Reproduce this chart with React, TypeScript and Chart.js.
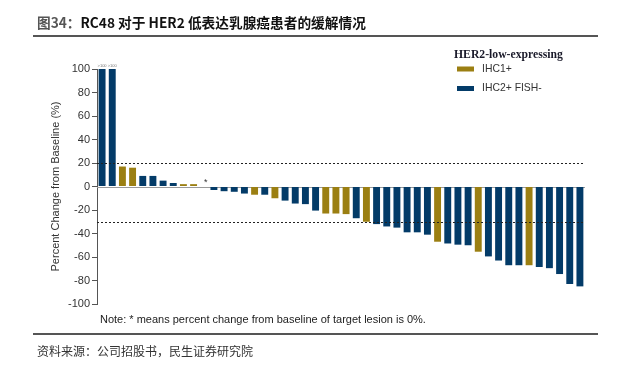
import React, { useEffect, useRef } from "react";
import { Chart, registerables } from "chart.js";

Chart.register(...registerables);

const IHC1 = "IHC1+";
const IHC2 = "IHC2+ FISH-";

// best percent change from baseline, per patient (sorted waterfall)
const changes = [
  100, 100, 17, 16, 9, 9, 5, 3, 2, 2,
  0, -3, -4, -4.5, -6, -7, -7, -10, -12, -14.5,
  -15, -20.5, -23, -23, -23.5, -27, -30, -32, -34, -35,
  -39, -39, -41, -47, -48.5, -49.5, -50, -55.5, -59.5, -63,
  -67, -67, -67, -68.5, -69.5, -74.5, -83, -85,
];

const subgroup = [
  IHC2, IHC2, IHC1, IHC1, IHC2, IHC2, IHC2, IHC2, IHC1, IHC1,
  IHC2, IHC2, IHC2, IHC2, IHC2, IHC1, IHC2, IHC1, IHC2, IHC2,
  IHC2, IHC2, IHC1, IHC1, IHC1, IHC2, IHC1, IHC2, IHC2, IHC2,
  IHC2, IHC2, IHC2, IHC1, IHC2, IHC2, IHC2, IHC1, IHC2, IHC2,
  IHC2, IHC2, IHC1, IHC2, IHC2, IHC2, IHC2, IHC2,
];

const patients = changes.map((_, i) => `P${i + 1}`);
const cappedLabels = [">100", ">100"]; // first bars exceed the axis
const zeroMarked = [10]; // "*" patients
const refLines = [20, -30];
const yTicks = { min: -100, max: 100, step: 20 };

const legendTitle = "HER2-low-expressing";
const legendItems = [IHC1, IHC2];
const COLORS: Record<string, string> = { [IHC1]: "#9b7f12", [IHC2]: "#033b68" };

const noteText = "Note: * means percent change from baseline of target lesion is 0%.";

const overlayPlugin = {
  id: "overlay",
  beforeDatasetsDraw(chart: any) {
    const { ctx, chartArea, scales } = chart;
    const y0 = scales.y.getPixelForValue(0);
    ctx.save();
    ctx.strokeStyle = "#9a9a9a";
    ctx.lineWidth = 1;
    ctx.beginPath();
    ctx.moveTo(chartArea.left, Math.round(y0) + 0.5);
    ctx.lineTo(chartArea.right, Math.round(y0) + 0.5);
    ctx.stroke();
    ctx.restore();
  },
  afterDatasetsDraw(chart: any) {
    const { ctx, chartArea, scales } = chart;
    ctx.save();
    ctx.strokeStyle = "#222";
    ctx.lineWidth = 1.2;
    ctx.setLineDash([2, 2]);
    refLines.forEach((v) => {
      const y = Math.round(scales.y.getPixelForValue(v)) + 0.5;
      ctx.beginPath();
      ctx.moveTo(chartArea.left, y);
      ctx.lineTo(chartArea.right - 2, y);
      ctx.stroke();
    });
    ctx.setLineDash([]);

    // capped labels
    ctx.fillStyle = "#777";
    ctx.font = "4px 'Liberation Sans', Arial, sans-serif";
    ctx.textAlign = "center";
    ctx.textBaseline = "bottom";
    cappedLabels.forEach((t, i) => {
      const x = scales.x.getPixelForValue(i);
      const y = scales.y.getPixelForValue(changes[i]);
      ctx.fillText(t, x, y - 1);
    });

    // zero markers
    ctx.fillStyle = "#333";
    ctx.font = "9px 'Liberation Sans', Arial, sans-serif";
    zeroMarked.forEach((i) => {
      const x = scales.x.getPixelForValue(i);
      const y = scales.y.getPixelForValue(0);
      ctx.fillText("*", x + 2, y + 1);
    });

    // legend
    ctx.textAlign = "left";
    ctx.textBaseline = "middle";
    ctx.fillStyle = "#1a1a2a";
    ctx.font = "bold 11.7px 'Liberation Serif', 'Times New Roman', serif";
    ctx.fillText(legendTitle, 454, 55);
    legendItems.forEach((name, k) => {
      const y = 69 + k * 19.5;
      ctx.fillStyle = COLORS[name];
      ctx.fillRect(457, y - 2.5, 17, 5);
      ctx.fillStyle = "#333";
      ctx.font = "10.4px 'Liberation Sans', Arial, sans-serif";
      ctx.fillText(name, 482, y);
    });

    // note
    ctx.fillStyle = "#222";
    ctx.font = "11px 'Liberation Sans', Arial, sans-serif";
    ctx.fillText(noteText, 100, 320);
    ctx.restore();
  },
};

export default function App() {
  const ref = useRef<HTMLCanvasElement | null>(null);

  useEffect(() => {
    if (!ref.current) return;
    const chart = new Chart(ref.current, {
      type: "bar",
      data: {
        labels: patients,
        datasets: [
          {
            label: "Best change",
            data: changes,
            backgroundColor: subgroup.map((g) => COLORS[g]),
            borderWidth: 0,
            barPercentage: 0.68,
            categoryPercentage: 1,
          },
        ],
      },
      options: {
        responsive: false,
        animation: false,
        devicePixelRatio: 1,
        layout: { padding: { left: 46, right: 39, top: 69, bottom: 61 } },
        plugins: { legend: { display: false }, tooltip: { enabled: false } },
        scales: {
          x: { display: false, offset: true },
          y: {
            min: yTicks.min,
            max: yTicks.max,
            afterFit: (s: any) => {
              s.width = 51;
            },
            ticks: {
              stepSize: yTicks.step,
              color: "#333",
              padding: 2,
              font: { size: 11, family: "'Liberation Sans', Arial, sans-serif" },
            },
            grid: { drawOnChartArea: false, drawTicks: true, tickLength: 5, color: "#555" },
            border: { display: true, color: "#555", width: 1 },
            title: {
              display: true,
              text: "Percent Change from Baseline (%)",
              color: "#333",
              font: { size: 11, family: "'Liberation Sans', Arial, sans-serif" },
              padding: { top: 3, bottom: 4 },
            },
          },
        },
      },
      plugins: [overlayPlugin],
    });
    return () => chart.destroy();
  }, []);

  return (
    <div style={{ position: "absolute", left: 0, top: 0, width: 624, height: 365, background: "#fff", overflow: "hidden" }}>
      <canvas ref={ref} width={624} height={365} style={{ position: "absolute", left: 0, top: 0 }} />
      <div
        style={{
          position: "absolute",
          left: 37,
          top: 12,
          fontFamily: "'Noto Sans CJK SC', sans-serif",
          fontSize: 13.7,
          lineHeight: "20px",
          whiteSpace: "nowrap",
          color: "#111",
        }}
      >
        <span style={{ color: "#555", fontWeight: 700 }}>图34：</span>
        <span style={{ fontWeight: 700 }}>RC48 对于 HER2 低表达乳腺癌患者的缓解情况</span>
      </div>
      <div style={{ position: "absolute", left: 33, top: 35, width: 565, height: 2, background: "#555" }} />
      <div style={{ position: "absolute", left: 33, top: 333, width: 565, height: 1.5, background: "#555" }} />
      <div
        style={{
          position: "absolute",
          left: 37,
          top: 342,
          fontFamily: "'Noto Sans CJK SC', sans-serif",
          fontSize: 12,
          lineHeight: "17px",
          whiteSpace: "nowrap",
          color: "#333",
        }}
      >
        资料来源：公司招股书，民生证券研究院
      </div>
    </div>
  );
}
